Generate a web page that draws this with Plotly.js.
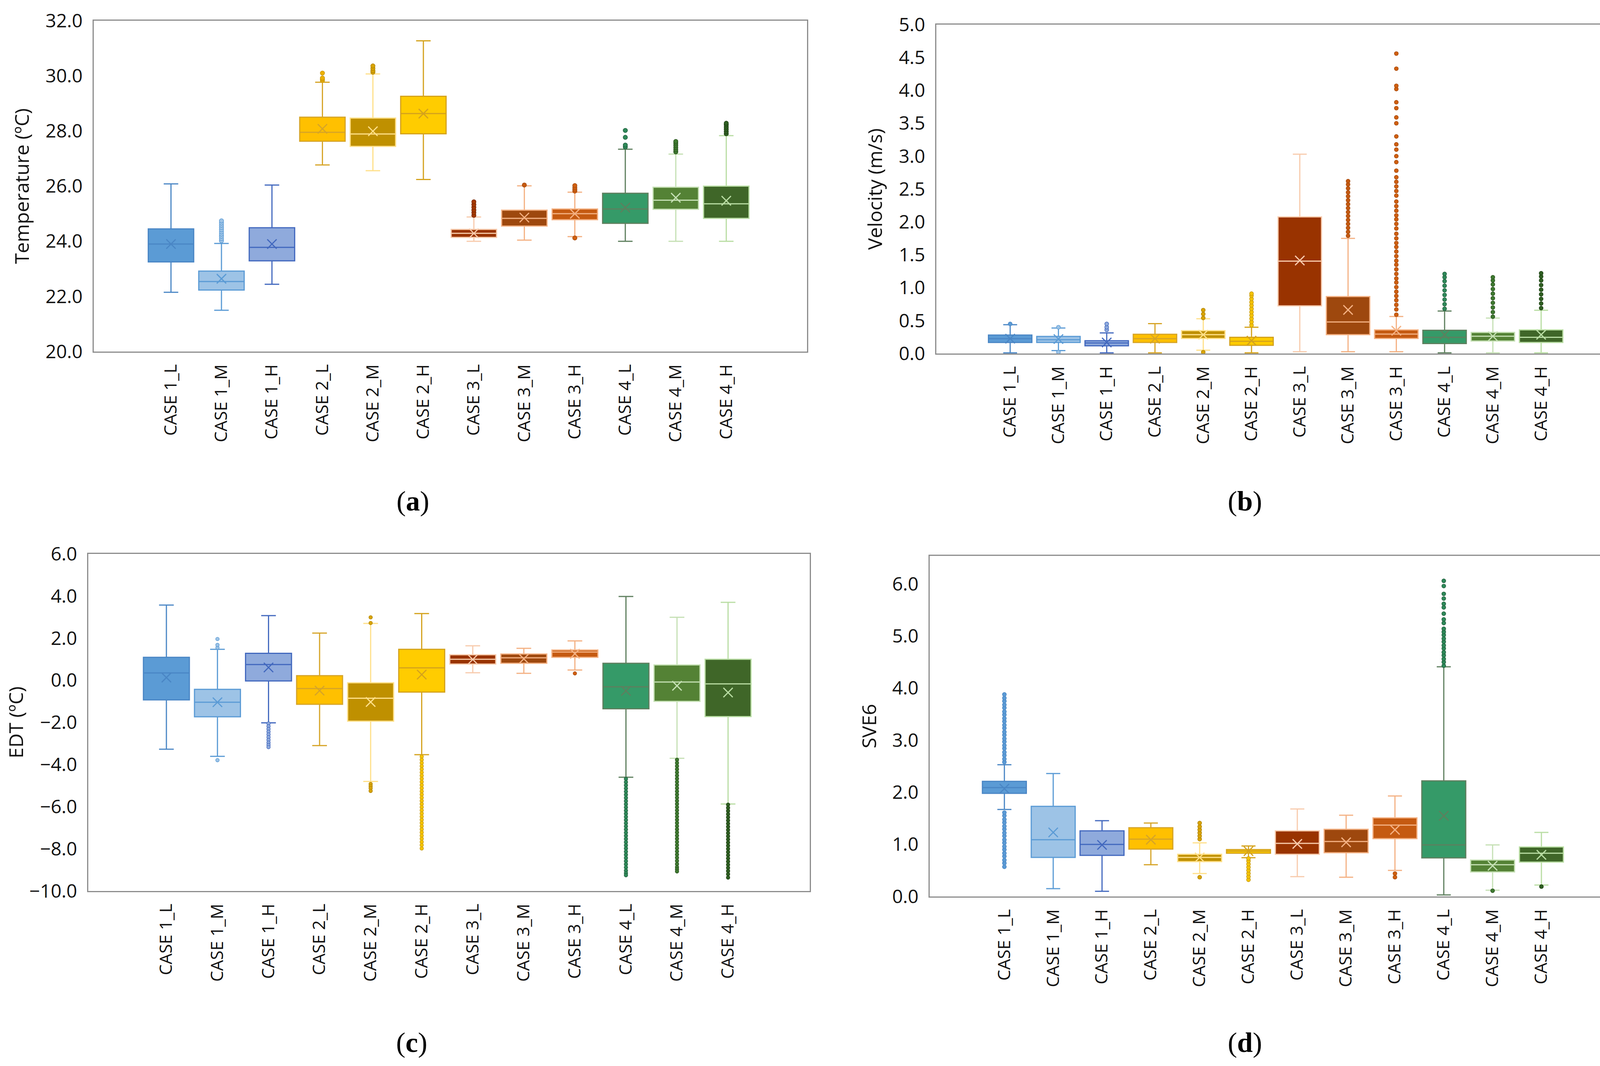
<!DOCTYPE html>
<html>
<head>
<meta charset="utf-8">
<script src="https://cdn.plot.ly/plotly-3.0.1.min.js"></script>
<style>html,body{margin:0;padding:0;background:#fff;}#chart{width:4183px;height:2729px;}</style>
</head>
<body>
<div id="chart"></div>
<script>
// ---------- categories ----------
const categories = ['CASE 1_L','CASE 1_M','CASE 1_H','CASE 2_L','CASE 2_M','CASE 2_H','CASE 3_L','CASE 3_M','CASE 3_H','CASE 4_L','CASE 4_M','CASE 4_H'];

// ---------- (a) Temperature (ºC) ----------
const tempLow  = [22.15, 21.50, 22.44, 26.77, 26.56, 26.24, 24.00, 24.04, 24.17, 24.00, 24.00, 24.00];
const tempQ1   = [23.25, 22.23, 23.29, 27.63, 27.44, 27.90, 24.14, 24.55, 24.78, 24.65, 25.16, 24.83];
const tempMed  = [23.90, 22.54, 23.78, 27.95, 27.89, 28.63, 24.29, 24.83, 25.00, 25.17, 25.49, 25.36];
const tempQ3   = [24.45, 22.92, 24.49, 28.50, 28.47, 29.26, 24.43, 25.13, 25.17, 25.74, 25.96, 26.00];
const tempHigh = [26.08, 23.92, 26.04, 29.77, 30.07, 31.27, 24.88, 26.01, 25.78, 27.34, 27.16, 27.83];
const tempMean = [23.90, 22.64, 23.90, 28.08, 27.99, 28.63, 24.29, 24.86, 25.00, 25.22, 25.58, 25.47];
const tempOut  = [
  [],
  [24.02, 24.10, 24.18, 24.26, 24.34, 24.42, 24.50, 24.58, 24.66, 24.74],
  [],
  [29.83, 29.88, 29.92, 30.10],
  [30.13, 30.19, 30.27, 30.36],
  [],
  [24.94, 25.04, 25.13, 25.23, 25.33, 25.43],
  [26.04],
  [25.82, 25.88, 25.95, 26.02, 24.12],
  [27.42, 27.49, 27.77, 28.02],
  [27.24, 27.32, 27.40, 27.48, 27.56, 27.62],
  [27.90, 27.98, 28.06, 28.14, 28.22, 28.28]
];

// ---------- (b) Velocity (m/s) ----------
const velLow  = [0.010, 0.044, 0.010, 0.010, 0.050, 0.010, 0.027, 0.027, 0.027, 0.010, 0.010, 0.010];
const velQ1   = [0.168, 0.168, 0.118, 0.168, 0.229, 0.125, 0.724, 0.286, 0.229, 0.152, 0.190, 0.168];
const velMed  = [0.226, 0.210, 0.160, 0.226, 0.286, 0.185, 1.404, 0.480, 0.296, 0.246, 0.263, 0.246];
const velQ3   = [0.280, 0.260, 0.195, 0.293, 0.347, 0.246, 2.077, 0.865, 0.360, 0.354, 0.320, 0.360];
const velHigh = [0.438, 0.387, 0.313, 0.455, 0.529, 0.400, 3.030, 1.750, 0.562, 0.646, 0.539, 0.657];
const velMean = [0.226, 0.220, 0.168, 0.226, 0.286, 0.195, 1.414, 0.663, 0.347, 0.286, 0.263, 0.286];
const velOut  = [
  [0.45],
  [0.40, 0.02],
  [0.36, 0.40, 0.45],
  [],
  [0.54, 0.60, 0.66, 0.02],
  [0.43, 0.48, 0.53, 0.58, 0.63, 0.68, 0.73, 0.78, 0.83, 0.88, 0.91],
  [],
  [1.79, 1.85, 1.91, 1.97, 2.03, 2.09, 2.15, 2.21, 2.27, 2.33, 2.39, 2.45, 2.51, 2.57, 2.62],
  [0.59, 0.67, 0.74, 0.81, 0.875, 0.94, 1.01, 1.08, 1.14, 1.21, 1.28, 1.35, 1.41, 1.48, 1.55, 1.62, 1.68, 1.75, 1.82, 1.90, 1.97, 2.04, 2.10, 2.17, 2.24, 2.31, 2.40, 2.47, 2.54, 2.61, 2.68, 2.78,
   2.91, 3.00, 3.10, 3.18, 3.30, 3.50, 3.59, 3.73, 3.82, 4.02, 4.07, 4.33, 4.56],
  [0.68, 0.75, 0.82, 0.89, 0.96, 1.03, 1.10, 1.16, 1.21],
  [0.56, 0.63, 0.70, 0.77, 0.84, 0.91, 0.98, 1.05, 1.11, 1.16],
  [0.69, 0.76, 0.83, 0.90, 0.97, 1.04, 1.11, 1.17, 1.22]
];

// ---------- (c) EDT (ºC) ----------
const edtLow  = [-3.27, -3.61, -2.02, -3.10, -4.80, -3.53, 0.36, 0.33, 0.49, -4.60, -3.70, -5.87];
const edtQ1   = [-0.93, -1.73, -0.03, -1.14, -1.94, -0.56, 0.77, 0.81, 1.09, -1.35, -1.00, -1.72];
const edtMed  = [0.35, -1.04, 0.75, -0.39, -0.85, 0.59, 1.00, 1.07, 1.34, -0.31, -0.08, -0.17];
const edtQ3   = [1.09, -0.43, 1.28, 0.22, -0.12, 1.47, 1.21, 1.25, 1.44, 0.81, 0.73, 1.00];
const edtHigh = [3.57, 1.47, 3.07, 2.24, 2.70, 3.17, 1.64, 1.52, 1.87, 3.98, 2.99, 3.70];
const edtMean = [0.13, -1.04, 0.61, -0.49, -1.03, 0.27, 0.99, 1.02, 1.26, -0.50, -0.26, -0.58];
const edtOut  = [
  [],
  [1.55, 1.68, 1.96, -3.79],
  [-2.05, -2.18, -2.31, -2.44, -2.57, -2.70, -2.83, -2.96, -3.07, -3.17],
  [],
  [2.72, 2.99, -4.92, -5.02, -5.12, -5.25],
  [-3.62, -3.77, -3.92, -4.07, -4.22, -4.37, -4.52, -4.67, -4.82, -4.97, -5.12, -5.27, -5.42, -5.57, -5.72,
   -5.87, -6.02, -6.17, -6.32, -6.47, -6.62, -6.77, -6.92, -7.07, -7.22, -7.37, -7.52, -7.67, -7.82, -7.98],
  [],
  [],
  [0.33],
  [-4.68, -4.83, -4.98, -5.13, -5.28, -5.43, -5.58, -5.73, -5.88, -6.03, -6.18, -6.33, -6.48, -6.63, -6.78, -6.93,
   -7.08, -7.23, -7.38, -7.53, -7.68, -7.83, -7.98, -8.13, -8.28, -8.43, -8.58, -8.73, -8.88, -9.03, -9.15, -9.25],
  [-3.77, -3.92, -4.07, -4.22, -4.37, -4.52, -4.67, -4.82, -4.97, -5.12, -5.27, -5.42, -5.57, -5.72, -5.87, -6.02,
   -6.17, -6.32, -6.47, -6.62, -6.77, -6.92, -7.07, -7.22, -7.37, -7.52, -7.67, -7.82, -7.97, -8.12, -8.27, -8.42,
   -8.57, -8.72, -8.87, -8.97, -9.07],
  [-5.90, -6.05, -6.20, -6.35, -6.50, -6.65, -6.80, -6.95, -7.10, -7.25, -7.40, -7.55, -7.70, -7.85, -8.00, -8.15,
   -8.30, -8.45, -8.60, -8.75, -8.90, -9.05, -9.20, -9.36]
];

// ---------- (d) SVE6 ----------
const sveLow  = [1.67, 0.15, 0.10, 0.61, 0.44, 0.745, 0.38, 0.37, 0.50, 0.03, 0.12, 0.22];
const sveQ1   = [1.98, 0.75, 0.79, 0.91, 0.67, 0.83, 0.81, 0.84, 1.11, 0.74, 0.47, 0.66];
const sveMed  = [2.09, 1.09, 1.00, 1.10, 0.75, 0.87, 1.02, 1.055, 1.37, 0.99, 0.61, 0.83];
const sveQ3   = [2.21, 1.73, 1.26, 1.32, 0.81, 0.90, 1.26, 1.29, 1.51, 2.22, 0.70, 0.95];
const sveHigh = [2.53, 2.36, 1.455, 1.41, 1.03, 0.97, 1.68, 1.56, 1.93, 4.41, 0.99, 1.23];
const sveMean = [2.07, 1.23, 0.99, 1.09, 0.75, 0.87, 1.01, 1.04, 1.28, 1.55, 0.59, 0.80];
const sveOut  = [
  [0.57, 0.64, 0.70, 0.77, 0.83, 0.90, 0.96, 1.03, 1.09, 1.16, 1.22, 1.29, 1.35, 1.42, 1.48, 1.55, 1.61,
   2.58, 2.64, 2.71, 2.77, 2.84, 2.90, 2.97, 3.03, 3.10, 3.16, 3.23, 3.29, 3.36, 3.42, 3.49, 3.55, 3.62, 3.68, 3.75, 3.81, 3.88],
  [],
  [],
  [],
  [1.10, 1.16, 1.22, 1.28, 1.34, 1.41, 0.37],
  [0.32, 0.38, 0.44, 0.50, 0.56, 0.62, 0.68, 0.73],
  [],
  [],
  [0.37, 0.44],
  [4.43, 4.50, 4.56, 4.63, 4.69, 4.76, 4.82, 4.89, 4.95, 5.02, 5.08, 5.14, 5.25, 5.32, 5.43, 5.55, 5.62, 5.72, 5.81, 5.96, 6.06],
  [0.11],
  [0.19]
];

// ---------- styling ----------
const boxFill  = ['#5B9BD5','#9DC3E6','#8FAADC','#FFC000','#BF9000','#FFCC00','#993300','#9E480E','#C55A11','#359A68','#548235','#3F6628'];
const boxLine  = ['#4A86C5','#5B9BD5','#4268BE','#D6A427','#FFE08A','#D4A21C','#F8CBAD','#F4B183','#F4B183','#5E7F5E','#C5E0B4','#B9DDA3'];
const dotFill  = ['#5B9BD5','#9DC3E6','#8FAADC','#EDB100','#D9A400','#F5C400','#A63A00','#C55A11','#D0600F','#2F8A5A','#3F7A30','#2F5F22'];
const dotLine  = ['#4A86C5','#5B9BD5','#4268BE','#C8960C','#B08400','#C89A10','#7A2800','#A84A0C','#A84A0C','#1F5E3B','#2A5420','#1E4214'];

const panels = [
  {xa:'x',  ya:'y',  low:tempLow, q1:tempQ1, med:tempMed, q3:tempQ3, high:tempHigh, mean:tempMean, out:tempOut, dot:11},
  {xa:'x2', ya:'y2', low:velLow,  q1:velQ1,  med:velMed,  q3:velQ3,  high:velHigh,  mean:velMean,  out:velOut,  dot:10},
  {xa:'x3', ya:'y3', low:edtLow,  q1:edtQ1,  med:edtMed,  q3:edtQ3,  high:edtHigh,  mean:edtMean,  out:edtOut,  dot:9},
  {xa:'x4', ya:'y4', low:sveLow,  q1:sveQ1,  med:sveMed,  q3:sveQ3,  high:sveHigh,  mean:sveMean,  out:sveOut,  dot:10}
];

const traces = [];
panels.forEach(p => {
  categories.forEach((c, i) => {
    traces.push({
      type:'box', x:[c], q1:[p.q1[i]], median:[p.med[i]], q3:[p.q3[i]],
      lowerfence:[p.low[i]], upperfence:[p.high[i]],
      width:0.9, whiskerwidth:0.32, boxpoints:false,
      fillcolor:boxFill[i], line:{color:boxLine[i], width:3},
      xaxis:p.xa, yaxis:p.ya, showlegend:false, hoverinfo:'skip'
    });
  });
});
panels.forEach(p => {
  const ox = [], oy = [], oc = [], ol = [];
  categories.forEach((c, i) => {
    p.out[i].forEach(v => { ox.push(c); oy.push(v); oc.push(dotFill[i]); ol.push(dotLine[i]); });
  });
  traces.push({
    type:'scatter', mode:'markers', x:ox, y:oy, xaxis:p.xa, yaxis:p.ya,
    marker:{symbol:'circle', size:p.dot, color:oc, line:{color:ol, width:1.4}},
    showlegend:false, hoverinfo:'skip'
  });
  traces.push({
    type:'scatter', mode:'markers', x:categories, y:p.mean, xaxis:p.xa, yaxis:p.ya,
    marker:{symbol:'x-thin', size:24, color:boxLine, line:{color:boxLine, width:3}},
    showlegend:false, hoverinfo:'skip'
  });
});

const W = 4183, H = 2729;
const fx = px => px / W;
const fy = py => 1 - py / H;
const tickFont = {family:'Open Sans, Noto Sans, sans-serif', size:48, color:'#111111'};
const catFont  = {family:'Open Sans, Noto Sans, sans-serif', size:44, color:'#111111'};
const titleFont= {family:'Open Sans, Noto Sans, sans-serif', size:50, color:'#111111'};

function xAxis(d0, d1, anchor) {
  return {
    domain:[fx(d0), fx(d1)], anchor:anchor, type:'category', categoryorder:'array', categoryarray:categories,
    range:[-1.53, 12.6], showline:true, mirror:true, linecolor:'#8C8C8C', linewidth:3,
    showgrid:false, zeroline:false, ticks:'', tickangle:-90, tickfont:catFont, ticklabelstandoff:12
  };
}
function yAxis(d0, d1, anchor, range, dtick, title, standoff) {
  return {
    domain:[fy(d1), fy(d0)], anchor:anchor, range:range, dtick:dtick, tick0:range[0] < 0 ? -10 : 0,
    tickformat:'.1f', showline:true, mirror:true, linecolor:'#8C8C8C', linewidth:3,
    showgrid:false, zeroline:false, ticks:'', tickfont:tickFont, ticklabelstandoff:16,
    title:{text:title, font:titleFont, standoff:standoff}
  };
}

const layout = {
  width:W, height:H, margin:{l:0, r:0, t:0, b:0}, paper_bgcolor:'#ffffff', plot_bgcolor:'#ffffff',
  showlegend:false, boxmode:'overlay',
  xaxis:  xAxis(240, 2066, 'y'),
  yaxis:  yAxis(53, 900, 'x', [20, 32], 2, 'Temperature (ºC)', 26),
  xaxis2: xAxis(2397, 4143, 'y2'),
  yaxis2: yAxis(63, 905, 'x2', [0, 5], 0.5, 'Velocity (m/s)', 27),
  xaxis3: xAxis(226, 2073, 'y3'),
  yaxis3: yAxis(1418, 2281, 'x3', [-10, 6], 2, 'EDT (ºC)', 0),
  xaxis4: xAxis(2380, 4146, 'y4'),
  yaxis4: yAxis(1423, 2295, 'x4', [0, 6.54], 1, 'SVE6', 25),
  annotations: [
    {text:'(<b>a</b>)', x:fx(1057), y:fy(1283)},
    {text:'(<b>b</b>)', x:fx(3187), y:fy(1283)},
    {text:'(<b>c</b>)', x:fx(1054), y:fy(2669)},
    {text:'(<b>d</b>)', x:fx(3187), y:fy(2669)}
  ].map(a => Object.assign(a, {xref:'paper', yref:'paper', showarrow:false, xanchor:'center', yanchor:'middle',
    font:{family:'Liberation Serif, Times New Roman, serif', size:72, color:'#000000'}}))
};

Plotly.newPlot('chart', traces, layout, {staticPlot:true, displayModeBar:false});
</script>
</body>
</html>
